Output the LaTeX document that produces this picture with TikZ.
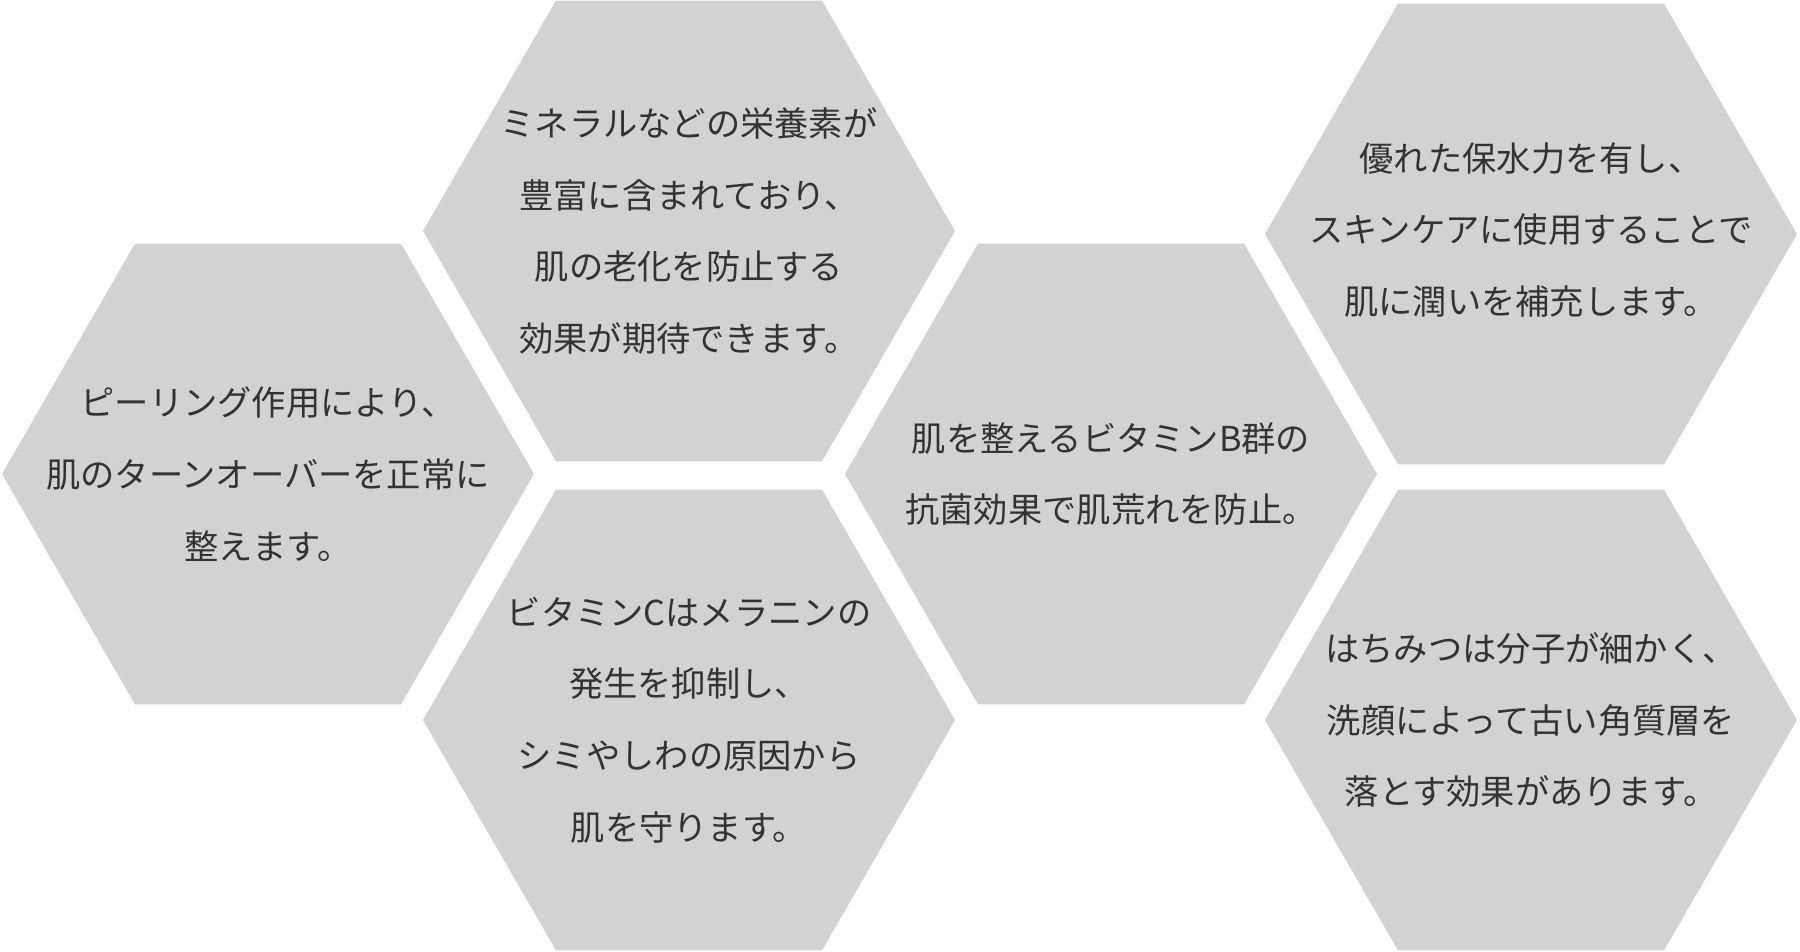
\documentclass[tikz,border=0pt]{standalone}
\usepackage{fontspec}
\newfontfamily\jpfont{Noto Sans CJK JP}
\usetikzlibrary{shapes.geometric}
\definecolor{hexgray}{HTML}{D2D2D2}
\definecolor{txtgray}{HTML}{333333}
\begin{document}
\begin{tikzpicture}[
    hexa/.style={regular polygon,regular polygon sides=6,minimum size=5.32cm,inner sep=0pt,fill=hexgray,draw=none},
    txt/.style={align=center,inner sep=0pt,text=txtgray,font=\jpfont\fontsize{9.75}{20.4}\selectfont}
]
\useasboundingbox (0,0) rectangle (18,-9.52);

\node[hexa] (H1) at (2.68,-4.74)  {};
\node[hexa] (H2) at (6.89,-2.31)  {};
\node[hexa] (H3) at (6.89,-7.20)  {};
\node[hexa] (H4) at (11.11,-4.74) {};
\node[hexa] (H5) at (15.31,-2.34) {};
\node[hexa] (H6) at (15.31,-7.20) {};

\node[txt] (T1) at (H1) {ピーリング作用により、\\肌のターンオーバーを正常に\\整えます。};
\node[txt] (T2) at (H2) {ミネラルなどの栄養素が\\豊富に含まれており、\\肌の老化を防止する\\効果が期待できます。};
\node[txt] (T3) at (H3) {ビタミンCはメラニンの\\発生を抑制し、\\シミやしわの原因から\\肌を守ります。};
\node[txt] (T4) at (H4) {肌を整えるビタミンB群の\\抗菌効果で肌荒れを防止。};
\node[txt,yshift=0.04cm] (T5) at (H5) {優れた保水力を有し、\\スキンケアに使用することで\\肌に潤いを補充します。};
\node[txt] (T6) at (H6) {はちみつは分子が細かく、\\洗顔によって古い角質層を\\落とす効果があります。};
\end{tikzpicture}
\end{document}
